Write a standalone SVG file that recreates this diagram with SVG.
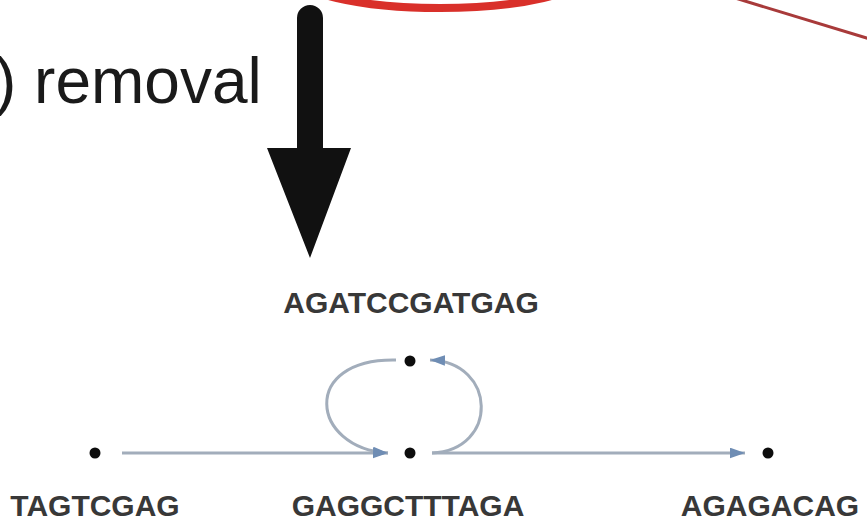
<svg xmlns="http://www.w3.org/2000/svg" width="867" height="529" viewBox="0 0 867 529">
  <defs>
    <style>
      .caption { font-family: "Liberation Sans", Arial, sans-serif; font-size: 64px; fill: #1a1a1a; }
      .seq { font-family: "Liberation Sans", Arial, sans-serif; font-size: 30px; font-weight: bold; fill: #383838; text-anchor: middle; }
      .dot { fill: #0d0d0d; }
      .edge { fill: none; stroke: #a2adbb; stroke-width: 3; }
    </style>
    <marker id="head" viewBox="0 0 14 10" refX="14" refY="5" markerWidth="15" markerHeight="11" markerUnits="userSpaceOnUse" orient="auto">
      <path d="M0,0 L14,5 L0,10 Z" fill="#6f8db4"/>
    </marker>
  </defs>

  <rect width="867" height="529" fill="#ffffff"/>

  <!-- red highlight ring, cut by the top edge -->
  <ellipse cx="440" cy="-26" rx="146" ry="34" fill="none" stroke="#d9302a" stroke-width="8"/>
  <!-- red pointer line, top right -->
  <line x1="735" y1="-2" x2="870" y2="39" stroke="#a83a3a" stroke-width="3"/>

  <!-- step caption -->
  <text class="caption" x="-5" y="103">) removal</text>

  <!-- big downward arrow -->
  <path d="M297,18 A13,13 0 0 1 323,18 L323,148 L351,148 L310,258 L267,148 L297,148 Z" fill="#111111"/>

  <!-- de Bruijn graph connectors -->
  <g id="connectors">
    <line class="edge" x1="122" y1="453" x2="388" y2="453" marker-end="url(#head)"/>
    <path class="edge" d="M396,360 C300,358 310,448 388,453" marker-end="url(#head)"/>
    <path class="edge" d="M432,453 C499,450 497,362 430,360" marker-end="url(#head)"/>
    <line class="edge" x1="432" y1="453" x2="745" y2="453" marker-end="url(#head)"/>
  </g>

  <!-- nodes -->
  <g id="node-tagtcgag">
    <circle class="dot" cx="95" cy="453" r="5.5"/>
    <text class="seq" x="95" y="516">TAGTCGAG</text>
  </g>
  <g id="node-gaggctttaga">
    <circle class="dot" cx="410" cy="453" r="5.5"/>
    <text class="seq" x="408" y="516">GAGGCTTTAGA</text>
  </g>
  <g id="node-agatccgatgag">
    <circle class="dot" cx="410" cy="361" r="5.5"/>
    <text class="seq" x="411" y="313">AGATCCGATGAG</text>
  </g>
  <g id="node-agagacag">
    <circle class="dot" cx="768" cy="453" r="5.5"/>
    <text class="seq" x="770" y="516">AGAGACAG</text>
  </g>
</svg>
